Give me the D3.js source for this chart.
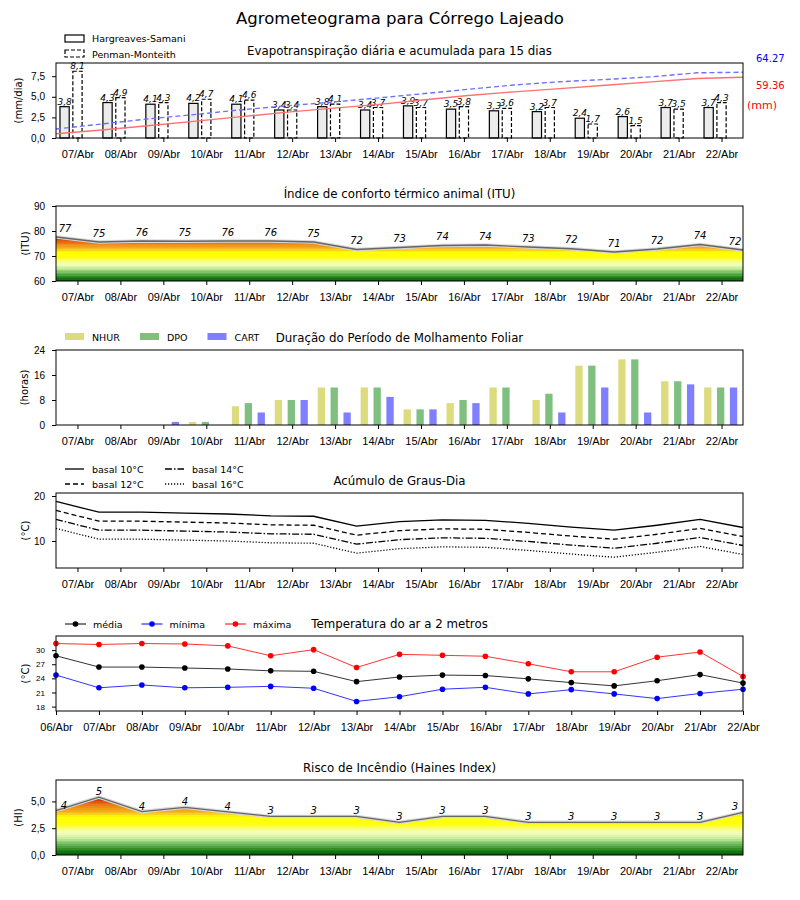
<!DOCTYPE html>
<html>
<head>
<meta charset="utf-8">
<style>
body { margin: 0; background: #fff; }
svg { font-family: "DejaVu Sans", sans-serif; }
.axis .domain { display: none; }
.axis text { font-size: 11px; fill: #000; }
.yaxis text { font-size: 10px; }
</style>
</head>
<body>
<svg width="800" height="900"></svg>
<script src="https://d3js.org/d3.v7.min.js"></script>
<script>
var days = ["07/Abr", "08/Abr", "09/Abr", "10/Abr", "11/Abr", "12/Abr", "13/Abr", "14/Abr",
            "15/Abr", "16/Abr", "17/Abr", "18/Abr", "19/Abr", "20/Abr", "21/Abr", "22/Abr"];
var tempDays = ["06/Abr"].concat(days);

// evapotranspiracao (mm/dia) e acumulada
var etHS = [3.8, 4.3, 4.1, 4.2, 4.1, 3.4, 3.8, 3.4, 3.9, 3.5, 3.3, 3.2, 2.4, 2.6, 3.7, 3.7];
var etPM = [8.1, 4.9, 4.3, 4.7, 4.6, 3.4, 4.1, 3.7, 3.7, 3.8, 3.6, 3.7, 1.7, 1.5, 3.5, 4.3];
var etHSAcum = [4.2, 7.8, 12.0, 16.3, 20.6, 25.0, 29.0, 32.6, 37.2, 41.6, 45.1, 48.3, 51.6, 54.9, 58.1, 59.36];
var etPMAcum = [8.8, 13.7, 18.6, 22.8, 27.4, 31.3, 35.0, 39.0, 43.2, 47.6, 51.8, 55.0, 57.2, 59.8, 63.7, 64.27];

// ITU
var itu = [77.6, 75.6, 76.0, 75.9, 76.0, 76.0, 75.6, 72.6, 73.4, 74.2, 74.4, 73.6, 72.9, 71.6, 72.8, 74.6, 72.4];
var ituLabels = [77, 75, 76, 75, 76, 76, 75, 72, 73, 74, 74, 73, 72, 71, 72, 74, 72];

// molhamento foliar (horas)
var nhur = [0, 0, 0, 1, 6, 8, 12, 12, 5, 7, 12, 8, 19, 21, 14, 12];
var dpo  = [0, 0, 0, 1, 7, 8, 12, 12, 5, 8, 12, 10, 19, 21, 14, 12];
var cart = [0, 0, 1, 0, 4, 8, 4, 9, 5, 7, 0, 4, 12, 4, 13, 12];

// graus-dia
var gd10 = [18.8, 16.4, 16.4, 16.2, 16.0, 15.6, 15.5, 13.3, 14.3, 14.7, 14.6, 13.9, 13.1, 12.4, 13.5, 14.8, 13.0];
var gd12 = [16.8, 14.4, 14.4, 14.2, 14.0, 13.6, 13.5, 11.3, 12.3, 12.7, 12.6, 11.9, 11.1, 10.4, 11.5, 12.8, 11.0];
var gd14 = [14.8, 12.4, 12.4, 12.2, 12.0, 11.6, 11.5, 9.3, 10.3, 10.7, 10.6, 9.9, 9.1, 8.4, 9.5, 10.8, 9.0];
var gd16 = [12.8, 10.4, 10.4, 10.2, 10.0, 9.6, 9.5, 7.3, 8.3, 8.7, 8.6, 7.9, 7.1, 6.4, 7.5, 8.8, 7.0];

// temperatura do ar
var tMed = [28.8, 26.4, 26.4, 26.2, 26.0, 25.6, 25.5, 23.3, 24.3, 24.7, 24.6, 23.9, 23.1, 22.4, 23.5, 24.8, 23.0];
var tMin = [24.7, 22.0, 22.6, 22.0, 22.1, 22.3, 21.9, 19.1, 20.1, 21.7, 22.1, 20.7, 21.6, 20.7, 19.7, 20.8, 21.7];
var tMax = [31.4, 31.2, 31.4, 31.3, 30.9, 28.8, 30.1, 26.3, 29.1, 28.9, 28.7, 27.1, 25.4, 25.4, 28.5, 29.6, 24.4];

// haines
var haines = [4.15, 5.4, 4.05, 4.45, 4.02, 3.6, 3.6, 3.6, 3.05, 3.6, 3.6, 3.05, 3.05, 3.05, 3.05, 3.05, 3.98];
var hainesLabels = [4, 5, 4, 4, 4, 3, 3, 3, 3, 3, 3, 3, 3, 3, 3, 3, 3];

var svg = d3.select("svg"),
    defs = svg.append("defs"),
    left = 56, right = 743, ph = 75, mid = (left + right) / 2;

var br = d3.formatLocale({decimal: ",", thousands: ".", grouping: [3], currency: ["", ""]});
var f1 = br.format(".1f");

var x = d3.scaleLinear().domain([0, 16]).range([left, right]);
var dayTicks = d3.range(16).map(function(i) { return i + 0.5; });

var heatStops = [0, 0.1, 0.2, 0.3, 0.37, 0.45, 0.52, 0.66, 0.72, 0.82, 0.92, 1];
var heatColors = ["#005c00", "#2a8a22", "#7cc466", "#cdeea0", "#f0ffc0", "#f8ff80", "#ffff10",
                  "#ffff00", "#f8c020", "#ee9018", "#dc5a10", "#cc1000"];
var heat = d3.scaleLinear().domain(heatStops).range(heatColors);

function heatGradient(id, yBottom, yTop) {
  var n = 32;
  var grad = defs.append("linearGradient").attr("id", id)
      .attr("gradientUnits", "userSpaceOnUse")
      .attr("x1", 0).attr("x2", 0).attr("y1", yBottom).attr("y2", yTop);
  for (var k = 0; k < n; k++) {
    var col = heat((k + 0.5) / n);
    grad.append("stop").attr("offset", k / n).attr("stop-color", col);
    grad.append("stop").attr("offset", (k + 1) / n).attr("stop-color", col);
  }
}

function frame(top) {
  svg.append("rect")
      .attr("x", left).attr("y", top)
      .attr("width", right - left).attr("height", ph)
      .attr("fill", "none").attr("stroke", "#000").attr("stroke-width", 1);
}

function title(top, txt) {
  svg.append("text")
      .attr("x", mid).attr("y", top - 8)
      .attr("text-anchor", "middle")
      .attr("font-size", 11.8)
      .text(txt);
}

function ylabel(top, xl, txt) {
  svg.append("text")
      .attr("transform", "translate(" + xl + "," + (top + ph / 2) + ") rotate(-90)")
      .attr("dy", "0.35em")
      .attr("text-anchor", "middle")
      .attr("font-size", 10)
      .text(txt);
}

function dayAxis(top) {
  svg.append("g")
      .attr("class", "axis")
      .attr("transform", "translate(0," + (top + ph) + ")")
      .call(d3.axisBottom(x).tickValues(dayTicks)
        .tickFormat(function(d, i) { return days[i]; })
        .tickSize(4).tickSizeOuter(0).tickPadding(8));
}

function yAxis(y, ticks, fmt) {
  return svg.append("g")
      .attr("class", "axis yaxis")
      .attr("transform", "translate(" + left + ",0)")
      .call(d3.axisLeft(y).tickValues(ticks).tickFormat(fmt)
        .tickSize(4).tickSizeOuter(0).tickPadding(7));
}

// ---------- 1. evapotranspiracao ----------
var top1 = 63;
var y1 = d3.scaleLinear().domain([0, 9.1]).range([top1 + ph, top1]);
var y1b = d3.scaleLinear().domain([0, 73.3]).range([top1 + ph, top1]);
var xc = d3.scaleLinear().domain([0, 15]).range([left, right]);
var bw = 0.215;

svg.append("text").attr("x", 400).attr("y", 24).attr("text-anchor", "middle")
    .attr("font-size", 16.5).text("Agrometeograma para Córrego Lajeado");

svg.append("g").selectAll("rect")
    .data(etHS)
  .enter().append("rect")
    .attr("x", function(d, i) { return x(i + 0.5 - 0.3 - bw / 2); })
    .attr("y", function(d) { return y1(d); })
    .attr("width", x(bw) - x(0))
    .attr("height", function(d) { return y1(0) - y1(d); })
    .attr("fill", "#ececec").attr("stroke", "#000").attr("stroke-width", 1.2);

svg.append("g").selectAll("rect")
    .data(etPM)
  .enter().append("rect")
    .attr("x", function(d, i) { return x(i + 0.5 - bw / 2); })
    .attr("y", function(d) { return y1(d); })
    .attr("width", x(bw) - x(0))
    .attr("height", function(d) { return y1(0) - y1(d); })
    .attr("fill", "#fff").attr("stroke", "#000").attr("stroke-width", 1.2)
    .attr("stroke-dasharray", "4,2");

svg.append("g").attr("font-size", 9).attr("font-style", "italic").attr("text-anchor", "middle")
  .selectAll("text")
    .data(etHS)
  .enter().append("text")
    .attr("x", function(d, i) { return x(i + 0.5 - 0.3); })
    .attr("y", function(d) { return y1(d) - 2; })
    .text(function(d) { return f1(d); });

svg.append("g").attr("font-size", 9).attr("font-style", "italic").attr("text-anchor", "middle")
  .selectAll("text")
    .data(etPM)
  .enter().append("text")
    .attr("x", function(d, i) { return x(i + 0.5); })
    .attr("y", function(d) { return y1(d) - 2; })
    .text(function(d) { return f1(d); });

var acumLine = d3.line()
    .x(function(d, i) { return xc(i); })
    .y(function(d) { return y1b(d); });

svg.append("path").datum(etHSAcum)
    .attr("d", acumLine).attr("fill", "none")
    .attr("stroke", "#ff7070").attr("stroke-width", 1.4);
svg.append("path").datum(etPMAcum)
    .attr("d", acumLine).attr("fill", "none")
    .attr("stroke", "#7070ff").attr("stroke-width", 1.4).attr("stroke-dasharray", "5,3");

frame(top1);
dayAxis(top1);
yAxis(y1, [0, 2.5, 5, 7.5], f1);
ylabel(top1, 18, "(mm/dia)");
title(top1, "Evapotranspiração diária e acumulada para 15 dias");

svg.append("text").attr("x", 756).attr("y", 62).attr("font-size", 10).attr("fill", "#0000ff")
    .text(etPMAcum[etPMAcum.length - 1].toFixed(2));
svg.append("text").attr("x", 756).attr("y", 89).attr("font-size", 10).attr("fill", "#ff0000")
    .text(etHSAcum[etHSAcum.length - 1].toFixed(2));
svg.append("text").attr("x", 747).attr("y", 109).attr("font-size", 11).attr("fill", "#ff0000")
    .text("(mm)");

var leg1 = svg.append("g").attr("font-size", 9.5);
leg1.append("rect").attr("x", 65).attr("y", 35).attr("width", 19).attr("height", 7)
    .attr("fill", "#fff").attr("stroke", "#000").attr("stroke-width", 1.2);
leg1.append("text").attr("x", 92).attr("y", 42).text("Hargreaves-Samani");
leg1.append("rect").attr("x", 65).attr("y", 50).attr("width", 19).attr("height", 7)
    .attr("fill", "#fff").attr("stroke", "#000").attr("stroke-width", 1.2).attr("stroke-dasharray", "4,2");
leg1.append("text").attr("x", 92).attr("y", 57.5).text("Penman-Monteith");

// ---------- 2. ITU ----------
var top2 = 206;
var y2 = d3.scaleLinear().domain([60, 90]).range([top2 + ph, top2]);
heatGradient("gradItu", y2(60), y2(d3.max(itu)));

svg.append("path").datum(itu)
    .attr("d", d3.area()
      .x(function(d, i) { return x(i); })
      .y0(y2(60))
      .y1(function(d) { return y2(d); }))
    .attr("fill", "url(#gradItu)");

var ituLine = d3.line().x(function(d, i) { return x(i); }).y(function(d) { return y2(d); });
svg.append("path").datum(itu).attr("d", ituLine).attr("fill", "none")
    .attr("stroke", "#d8d8d8").attr("stroke-width", 3.5);
svg.append("path").datum(itu).attr("d", ituLine).attr("fill", "none")
    .attr("stroke", "#666").attr("stroke-width", 1.3);

svg.append("g").attr("font-size", 10).attr("font-style", "italic").attr("text-anchor", "middle")
  .selectAll("text")
    .data(ituLabels)
  .enter().append("text")
    .attr("x", function(d, i) { return x(i) + (i === 0 ? 9 : i === 16 ? -8 : 0); })
    .attr("y", function(d, i) { return y2(itu[i]) - 5.5; })
    .text(function(d) { return d; });

frame(top2);
dayAxis(top2);
yAxis(y2, [60, 70, 80, 90], d3.format("d"));
ylabel(top2, 25, "(ITU)");
title(top2, "Índice de conforto térmico animal (ITU)");

// ---------- 3. molhamento foliar ----------
var top3 = 350;
var y3 = d3.scaleLinear().domain([0, 24]).range([top3 + ph, top3]);
var mw = 0.17;
var wetSeries = [
  {name: "NHUR", values: nhur, off: -0.32, color: "#dcdc7e"},
  {name: "DPO", values: dpo, off: -0.02, color: "#7fbf7f"},
  {name: "CART", values: cart, off: 0.28, color: "#7f7fff"}
];

wetSeries.forEach(function(s) {
  svg.append("g").selectAll("rect")
      .data(s.values)
    .enter().append("rect")
      .attr("x", function(d, i) { return x(i + 0.5 + s.off - mw / 2); })
      .attr("y", function(d) { return y3(d); })
      .attr("width", x(mw) - x(0))
      .attr("height", function(d) { return y3(0) - y3(d); })
      .attr("fill", s.color);
});

frame(top3);
dayAxis(top3);
yAxis(y3, [0, 8, 16, 24], d3.format("d"));
ylabel(top3, 24, "(horas)");
title(top3, "Duração do Período de Molhamento Foliar");

var leg3 = svg.append("g").attr("font-size", 9.5)
  .selectAll("g")
    .data(wetSeries)
  .enter().append("g")
    .attr("transform", function(d, i) { return "translate(" + [65, 140, 207.5][i] + ",333)"; });
leg3.append("rect").attr("width", 19).attr("height", 7).attr("fill", function(d) { return d.color; });
leg3.append("text").attr("x", 27).attr("y", 7.5).text(function(d) { return d.name; });

// ---------- 4. graus-dia ----------
var top4 = 493;
var y4 = d3.scaleLinear().domain([4.0, 20.67]).range([top4 + ph, top4]);
var gdSeries = [
  {name: "basal 10°C", values: gd10, dash: null},
  {name: "basal 12°C", values: gd12, dash: "5,3"},
  {name: "basal 14°C", values: gd14, dash: "7,2,1.5,2"},
  {name: "basal 16°C", values: gd16, dash: "1.2,1.8"}
];
var gdLine = d3.line().x(function(d, i) { return x(i); }).y(function(d) { return y4(d); });

gdSeries.forEach(function(s) {
  svg.append("path").datum(s.values)
      .attr("d", gdLine).attr("fill", "none")
      .attr("stroke", "#000").attr("stroke-width", 1.3)
      .attr("stroke-dasharray", s.dash);
});

frame(top4);
dayAxis(top4);
yAxis(y4, [10, 20], d3.format("d"));
ylabel(top4, 25, "(°C)");
title(top4, "Acúmulo de Graus-Dia");

var leg4 = svg.append("g").attr("font-size", 9.5)
  .selectAll("g")
    .data(gdSeries)
  .enter().append("g")
    .attr("transform", function(d, i) {
      return "translate(" + (i < 2 ? 65 : 165) + "," + (i % 2 ? 484 : 469) + ")";
    });
leg4.append("line").attr("x1", 0).attr("x2", 19).attr("stroke", "#000").attr("stroke-width", 1.3)
    .attr("stroke-dasharray", function(d) { return d.dash; });
leg4.append("text").attr("x", 27).attr("y", 3.5).text(function(d) { return d.name; });

// ---------- 5. temperatura ----------
var top5 = 636;
var y5 = d3.scaleLinear().domain([17.07, 33.0]).range([top5 + ph, top5]);
var tSeries = [
  {name: "média", values: tMed, color: "#000"},
  {name: "mínima", values: tMin, color: "#0000ff"},
  {name: "máxima", values: tMax, color: "#ff0000"}
];
var tLine = d3.line().x(function(d, i) { return x(i); }).y(function(d) { return y5(d); });

tSeries.forEach(function(s) {
  svg.append("path").datum(s.values)
      .attr("d", tLine).attr("fill", "none")
      .attr("stroke", s.color).attr("stroke-opacity", 0.8).attr("stroke-width", 1);
  svg.append("g").selectAll("circle")
      .data(s.values)
    .enter().append("circle")
      .attr("cx", function(d, i) { return x(i); })
      .attr("cy", function(d) { return y5(d); })
      .attr("r", 2.8)
      .attr("fill", s.color);
});

frame(top5);
svg.append("g")
    .attr("class", "axis")
    .attr("transform", "translate(0," + (top5 + ph) + ")")
    .call(d3.axisBottom(x).tickValues(d3.range(17))
      .tickFormat(function(d, i) { return tempDays[i]; })
      .tickSize(4).tickSizeOuter(0).tickPadding(8));
yAxis(y5, [18, 21, 24, 27, 30], d3.format("d")).selectAll("text").style("font-size", "8px");
ylabel(top5, 25, "(°C)");
title(top5, "Temperatura do ar a 2 metros");

var leg5 = svg.append("g").attr("font-size", 9.5)
  .selectAll("g")
    .data(tSeries)
  .enter().append("g")
    .attr("transform", function(d, i) { return "translate(" + [65, 141.5, 225][i] + ",624)"; });
leg5.append("line").attr("x1", 0).attr("x2", 21).attr("stroke", function(d) { return d.color; })
    .attr("stroke-width", 1);
leg5.append("circle").attr("cx", 10.5).attr("r", 2.8).attr("fill", function(d) { return d.color; });
leg5.append("text").attr("x", 28).attr("y", 3.5).text(function(d) { return d.name; });

// ---------- 6. haines ----------
var top6 = 780;
var y6 = d3.scaleLinear().domain([0, 7]).range([top6 + ph, top6]);
heatGradient("gradHaines", y6(0), y6(d3.max(haines)));

svg.append("path").datum(haines)
    .attr("d", d3.area()
      .x(function(d, i) { return x(i); })
      .y0(y6(0))
      .y1(function(d) { return y6(d); }))
    .attr("fill", "url(#gradHaines)");

var hLine = d3.line().x(function(d, i) { return x(i); }).y(function(d) { return y6(d); });
svg.append("path").datum(haines).attr("d", hLine).attr("fill", "none")
    .attr("stroke", "#d8d8d8").attr("stroke-width", 3.5);
svg.append("path").datum(haines).attr("d", hLine).attr("fill", "none")
    .attr("stroke", "#666").attr("stroke-width", 1.3);

svg.append("g").attr("font-size", 10).attr("font-style", "italic").attr("text-anchor", "middle")
  .selectAll("text")
    .data(hainesLabels)
  .enter().append("text")
    .attr("x", function(d, i) { return x(i) + (i === 0 ? 8 : i === 16 ? -8 : 0); })
    .attr("y", function(d, i) { return y6(haines[i]) - 2; })
    .text(function(d) { return d; });

frame(top6);
dayAxis(top6);
yAxis(y6, [0, 2.5, 5], f1);
ylabel(top6, 18, "(HI)");
title(top6, "Risco de Incêndio (Haines Index)");
</script>
</body>
</html>
